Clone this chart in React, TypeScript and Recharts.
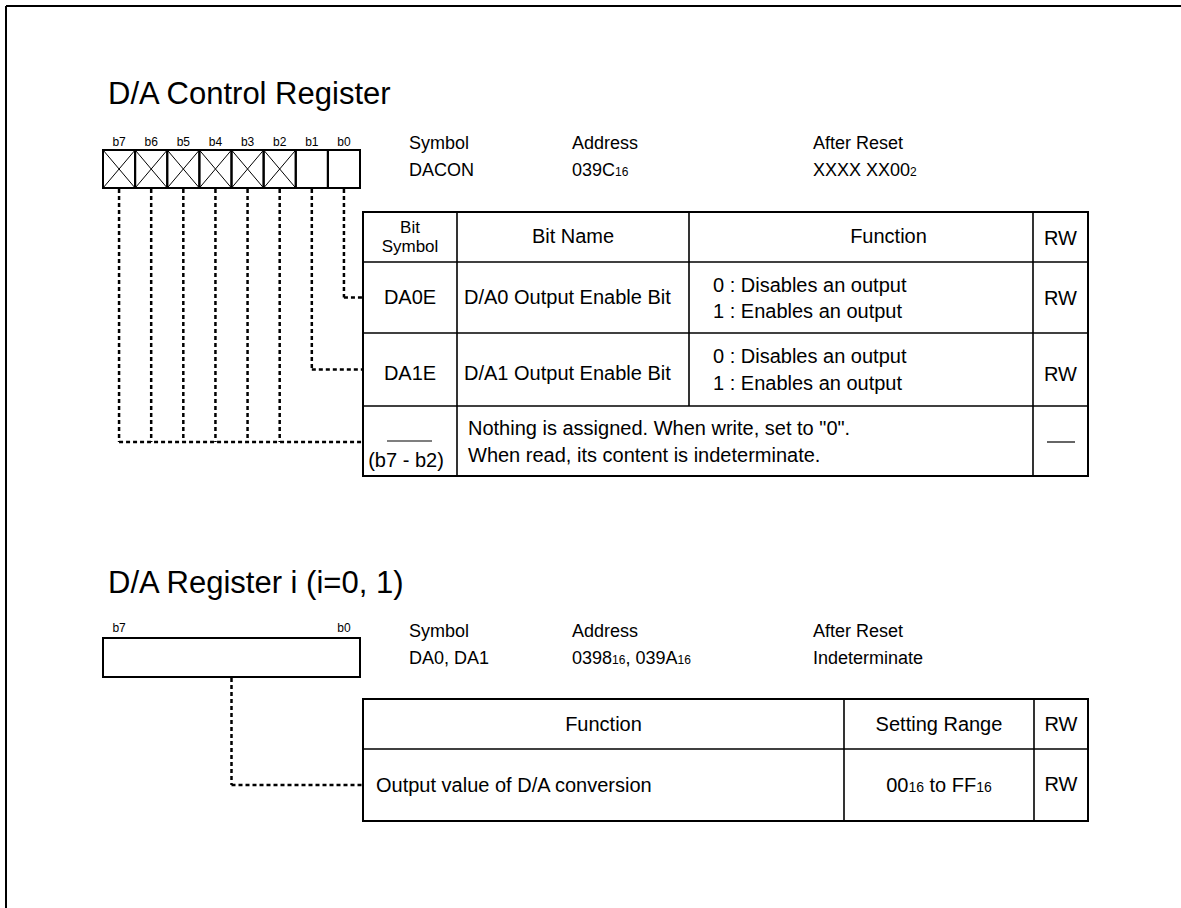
import React from 'react'
import { ComposedChart, XAxis, YAxis, Scatter, ReferenceLine, ReferenceArea } from 'recharts'

const W = 1181
const H = 908
const FONT = '"Liberation Sans", Arial, Helvetica, sans-serif'

// D/A control register
const CTRL_TITLE = 'D/A Control Register'
const BITS = ['b7', 'b6', 'b5', 'b4', 'b3', 'b2', 'b1', 'b0']
const RESERVED = ['b7', 'b6', 'b5', 'b4', 'b3', 'b2']
const INFO_LABELS = ['Symbol', 'Address', 'After Reset']
// odd entries are subscripts
const CTRL_INFO = [['DACON'], ['039C', '16'], ['XXXX XX00', '2']]
const CTRL_SYM_HEAD = ['Bit', 'Symbol']
const CTRL_HEAD = ['Bit Name', 'Function', 'RW']
const CTRL_SYMBOLS = ['DA0E', 'DA1E']
const CTRL_NAMES = ['D/A0 Output Enable Bit', 'D/A1 Output Enable Bit']
const CTRL_FUNCS = [
  ['0 : Disables an output', '1 : Enables an output'],
  ['0 : Disables an output', '1 : Enables an output'],
]
const CTRL_RW = ['RW', 'RW']
const CTRL_NOTE_BITS = '(b7 - b2)'
const CTRL_NOTE = ['Nothing is assigned. When write, set to "0".', 'When read, its content is indeterminate.']

// D/A register i
const DA_TITLE = 'D/A Register i (i=0, 1)'
const DA_INFO = [['DA0, DA1'], ['0398', '16', ', 039A', '16'], ['Indeterminate']]
const DA_HEAD = ['Function', 'Setting Range', 'RW']
const DA_FUNC = 'Output value of D/A conversion'
const DA_RANGE = ['00', '16', ' to FF', '16']
const DA_RW = 'RW'

// layout
const REG_X = 103
const CELL = 32.125
const REG1 = [150, 188]
const REG2 = [638, 677]
const INFO_X = [409, 572, 813]
const T1X = [363, 457, 689, 1033, 1088]
const T1Y = [212, 262, 333, 406, 476]
const T2X = [363, 844, 1034, 1088]
const T2Y = [699, 749, 821]

type Item = { x: number; y: number; parts: string[]; size: number; sub?: number; anchor?: 'start' | 'middle' | 'end' }

const TextShape = (props: any) => {
  const d = props.payload as Item
  return (
    <text x={props.cx} y={props.cy} fontSize={d.size} textAnchor={d.anchor ?? 'start'} fontFamily={FONT} fill="#000">
      {d.parts.map((p, i) =>
        p ? <tspan key={i} fontSize={i % 2 ? d.sub ?? 12 : d.size}>{p}</tspan> : null
      )}
    </text>
  )
}

const cellMid = (i: number) => REG_X + CELL * (i + 0.5)
const mid = (a: number, b: number) => (a + b) / 2

export default function App() {
  const items: Item[] = []
  const t = (x: number, y: number, parts: string[] | string, size: number, anchor: Item['anchor'] = 'start', sub = 12) =>
    items.push({ x, y, parts: typeof parts === 'string' ? [parts] : parts, size, anchor, sub })

  // titles
  t(108, 104, CTRL_TITLE, 31)
  t(108, 593, DA_TITLE, 31)

  // bit labels
  BITS.forEach((b, i) => t(cellMid(i), 146, b, 12, 'middle'))
  t(cellMid(0), 632, BITS[0], 12, 'middle')
  t(cellMid(7), 632, BITS[7], 12, 'middle')

  // symbol / address / after reset
  INFO_LABELS.forEach((l, i) => {
    t(INFO_X[i], 149, l, 18)
    t(INFO_X[i], 176, CTRL_INFO[i], 18)
    t(INFO_X[i], 637, l, 18)
    t(INFO_X[i], 664, DA_INFO[i], 18)
  })

  // control table header
  t(mid(T1X[0], T1X[1]), 233, CTRL_SYM_HEAD[0], 17, 'middle')
  t(mid(T1X[0], T1X[1]), 252, CTRL_SYM_HEAD[1], 17, 'middle')
  t(mid(T1X[1], T1X[2]), 243, CTRL_HEAD[0], 20, 'middle')
  t(mid(T1X[2], T1X[4]), 243, CTRL_HEAD[1], 20, 'middle')
  t(mid(T1X[3], T1X[4]), 245, CTRL_HEAD[2], 20, 'middle')

  // control table rows
  const singleBase = [304, 380]
  const funcBase = [[292, 318], [363, 390]]
  CTRL_SYMBOLS.forEach((s, r) => {
    t(mid(T1X[0], T1X[1]), singleBase[r], s, 20, 'middle')
    t(T1X[1] + 7, singleBase[r], CTRL_NAMES[r], 20)
    CTRL_FUNCS[r].forEach((f, k) => t(T1X[2] + 24, funcBase[r][k], f, 20))
    t(mid(T1X[3], T1X[4]), singleBase[r] + 1, CTRL_RW[r], 20, 'middle')
  })
  t(mid(T1X[0], T1X[1]) - 4, 467, CTRL_NOTE_BITS, 20, 'middle')
  t(T1X[1] + 11, 435, CTRL_NOTE[0], 20)
  t(T1X[1] + 11, 462, CTRL_NOTE[1], 20)

  // D/A table
  t(mid(T2X[0], T2X[1]), 731, DA_HEAD[0], 20, 'middle')
  t(mid(T2X[1], T2X[2]), 731, DA_HEAD[1], 20, 'middle')
  t(mid(T2X[2], T2X[3]), 731, DA_HEAD[2], 20, 'middle')
  t(T2X[0] + 13, 792, DA_FUNC, 20)
  t(mid(T2X[1], T2X[2]), 792, DA_RANGE, 20, 'middle', 14)
  t(mid(T2X[2], T2X[3]), 791, DA_RW, 20, 'middle')

  // leader lines: bit -> table row
  const rowMid = [mid(T1Y[1], T1Y[2]), mid(T1Y[2], T1Y[3]), mid(T1Y[3], T1Y[4]) + 1]
  const leaderRow = BITS.map((b, i) => (RESERVED.includes(b) ? 2 : 7 - i))
  const leaders: { x: number; y: number }[][] = []
  BITS.forEach((_, i) => leaders.push([{ x: cellMid(i), y: REG1[1] + 1 }, { x: cellMid(i), y: rowMid[leaderRow[i]] }]))
  ;[0, 1, 2].forEach(r => {
    const xs = BITS.map((_, i) => i).filter(i => leaderRow[i] === r).map(cellMid)
    leaders.push([{ x: Math.min(...xs), y: rowMid[r] }, { x: T1X[0], y: rowMid[r] }])
  })
  const reg2Mid = mid(REG_X, REG_X + CELL * 8)
  const row2Mid = mid(T2Y[1], T2Y[2])
  leaders.push([{ x: reg2Mid, y: REG2[1] + 1 }, { x: reg2Mid, y: row2Mid }])
  leaders.push([{ x: reg2Mid, y: row2Mid }, { x: T2X[0], y: row2Mid }])

  // table grid lines
  const grid: { seg: { x: number; y: number }[]; w: number }[] = []
  T1X.slice(1, 4).forEach((x, i) => {
    // bit name / function split ends above the note row
    const bottom = i === 1 ? T1Y[3] : T1Y[4]
    grid.push({ seg: [{ x, y: T1Y[0] }, { x, y: bottom }], w: 1.6 })
  })
  T1Y.slice(1, 4).forEach(y => grid.push({ seg: [{ x: T1X[0], y }, { x: T1X[4], y }], w: 1.6 }))
  T2X.slice(1, 3).forEach(x => grid.push({ seg: [{ x, y: T2Y[0] }, { x, y: T2Y[2] }], w: 1.6 }))
  grid.push({ seg: [{ x: T2X[0], y: T2Y[1] }, { x: T2X[3], y: T2Y[1] }], w: 1.6 })
  // overline on reserved-bit symbol, dash in RW
  grid.push({ seg: [{ x: 387, y: 441 }, { x: 432, y: 441 }], w: 1.2 })
  grid.push({ seg: [{ x: 1047, y: 442 }, { x: 1075, y: 442 }], w: 1.2 })

  return (
    <div style={{ position: 'absolute', left: 0, top: 0, width: W, height: H, background: '#fff' }}>
      <ComposedChart width={W} height={H} margin={{ top: 0, right: 0, bottom: 0, left: 0 }}>
        <XAxis type="number" dataKey="x" domain={[0, W]} allowDataOverflow hide />
        <YAxis type="number" dataKey="y" domain={[0, H]} allowDataOverflow reversed hide />

        {/* outer frame */}
        <ReferenceLine segment={[{ x: 6, y: 6 }, { x: W, y: 6 }]} stroke="#000" strokeWidth={2} ifOverflow="visible" />
        <ReferenceLine segment={[{ x: 6, y: 6 }, { x: 6, y: H }]} stroke="#000" strokeWidth={2} ifOverflow="visible" />

        {/* register cells */}
        {BITS.map((b, i) => (
          <ReferenceArea key={'c' + b} x1={REG_X + CELL * i} x2={REG_X + CELL * (i + 1)} y1={REG1[0]} y2={REG1[1]}
            fill="none" stroke="#000" strokeWidth={2} ifOverflow="visible" />
        ))}
        {BITS.filter(b => RESERVED.includes(b)).map(b => {
          const i = BITS.indexOf(b)
          const x1 = REG_X + CELL * i
          const x2 = x1 + CELL
          return [
            <ReferenceLine key={'xa' + b} segment={[{ x: x1, y: REG1[0] }, { x: x2, y: REG1[1] }]} stroke="#000" strokeWidth={1} />,
            <ReferenceLine key={'xb' + b} segment={[{ x: x1, y: REG1[1] }, { x: x2, y: REG1[0] }]} stroke="#000" strokeWidth={1} />,
          ]
        })}
        <ReferenceArea x1={REG_X} x2={REG_X + CELL * 8} y1={REG2[0]} y2={REG2[1]} fill="none" stroke="#000" strokeWidth={2} />

        {/* leaders */}
        {leaders.map((s, i) => (
          <ReferenceLine key={'l' + i} segment={s} stroke="#000" strokeWidth={2.5} strokeDasharray="4 3" ifOverflow="visible" />
        ))}

        {/* tables */}
        <ReferenceArea x1={T1X[0]} x2={T1X[4]} y1={T1Y[0]} y2={T1Y[4]} fill="none" stroke="#000" strokeWidth={2} />
        <ReferenceArea x1={T2X[0]} x2={T2X[3]} y1={T2Y[0]} y2={T2Y[2]} fill="none" stroke="#000" strokeWidth={2} />
        {grid.map((g, i) => (
          <ReferenceLine key={'g' + i} segment={g.seg} stroke="#000" strokeWidth={g.w} />
        ))}

        <Scatter data={items} shape={TextShape} isAnimationActive={false} />
      </ComposedChart>
    </div>
  )
}
